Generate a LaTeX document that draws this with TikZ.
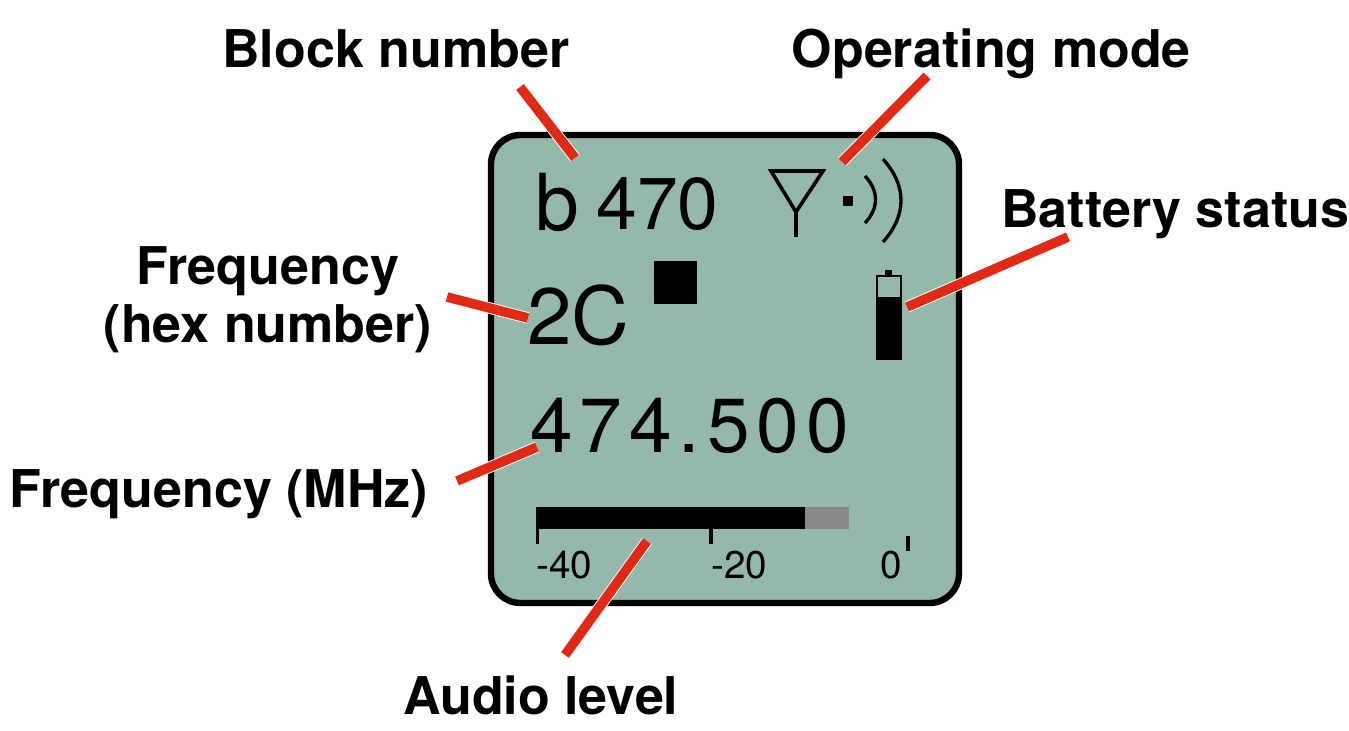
\documentclass[tikz,border=0pt]{standalone}
\usepackage{fontspec}
\setmainfont{TeX Gyre Heros}
\newfontfamily\spacedfont[LetterSpace=9]{TeX Gyre Heros}
\definecolor{panelgreen}{HTML}{94B8AA}
\definecolor{callred}{HTML}{E02A16}
\definecolor{bargray}{HTML}{888888}
\tikzset{
  callout/.style={font=\fontsize{39}{46}\selectfont\bfseries,inner sep=0pt,anchor=base west,text=black},
  lcdtext/.style={inner sep=0pt,anchor=base west,text=black},
  leader/.style={draw=callred,line width=7.2pt,preaction={draw=white,line width=8.6pt}},
  lcdline/.style={draw=black,line width=2.7pt},
  tick/.style={draw=black,line width=2.6pt},
}
\begin{document}
\begin{tikzpicture}[x=0.75pt,y=-0.75pt]
\useasboundingbox (0,0) rectangle (1349,731);
% panel
\draw[draw=black,line width=4.8pt,fill=panelgreen,rounded corners=22pt] (491,135) rectangle (959,603);
% display text
\node[lcdtext,font=\fontsize{59}{70}\selectfont] (blockb) at (535,230) {b};
\node[lcdtext,font=\fontsize{55}{66}\selectfont] (blocknum) at (596,229) {470};
\node[lcdtext,font=\fontsize{60}{72}\selectfont] (hexfreq) at (527,344) {2C};
\node[lcdtext,font=\spacedfont\fontsize{57.5}{68}\selectfont] (mhzfreq) at (530,452) {474.500};
\node[lcdtext,font=\fontsize{29}{34}\selectfont] (scalea) at (536,578) {-40};
\node[lcdtext,font=\fontsize{29}{34}\selectfont] (scaleb) at (711,578) {-20};
\node[lcdtext,font=\fontsize{29}{34}\selectfont] (scalec) at (880,578) {0};
% lock square
\fill[black] (654,261) rectangle (697,304);
% antenna
\draw[lcdline,line join=miter] (771,171) -- (823,171) -- (796,212) -- cycle;
\draw[lcdline] (796,212) -- (796,237);
\fill[black] (843,196) rectangle (853,206);
\draw[lcdline,line width=2.5pt] (865,176) .. controls (879,191) and (879,208) .. (865,223);
\draw[lcdline,line width=2.5pt] (883,159) .. controls (907,186) and (907,215) .. (883,242);
% battery
\fill[black] (885,270) rectangle (892,276);
\draw[draw=black,line width=1.6pt] (877,276) rectangle (901,298);
\fill[black] (876,298) rectangle (902,360);
% level bar
\fill[black] (536,507) rectangle (805,529);
\fill[bargray] (805,507) rectangle (849,529);
\draw[tick] (537.5,529) -- (537.5,544);
\draw[tick] (711,529) -- (711,544);
\draw[tick] (908,536) -- (908,551);
% callout labels
\node[callout] (lblock) at (222,68) {Block number};
\node[callout] (lmode) at (791.5,68) {Operating mode};
\node[callout] (lbatt) at (1001,228) {Battery status};
\node[callout,anchor=base] (lfreqa) at (268,284) {Frequency};
\node[callout,anchor=base] (lfreqb) at (268,342) {(hex number)};
\node[callout] (lmhz) at (9.5,507) {Frequency (MHz)};
\node[callout] (laudio) at (403,714) {Audio level};
% leader ends
\coordinate (ablock) at (520,87);   \coordinate (bblock) at (575,158);
\coordinate (amode) at (927,76);    \coordinate (bmode) at (842,162);
\coordinate (abatt) at (1068,237);  \coordinate (bbatt) at (907,307);
\coordinate (ahex) at (447,297);    \coordinate (bhex) at (528,318);
\coordinate (amhz) at (457,481);    \coordinate (bmhz) at (537,447);
\coordinate (aaudio) at (565,655);  \coordinate (baudio) at (647,541);
\draw[leader] (ablock) -- (bblock);
\draw[leader] (amode) -- (bmode);
\draw[leader] (abatt) -- (bbatt);
\draw[leader] (ahex) -- (bhex);
\draw[leader] (amhz) -- (bmhz);
\draw[leader] (aaudio) -- (baudio);
\end{tikzpicture}
\end{document}
